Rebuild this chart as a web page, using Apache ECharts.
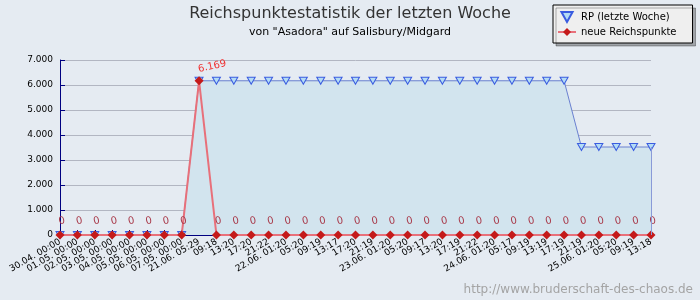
<!DOCTYPE html>
<html>
<head>
<meta charset="utf-8">
<script src="https://cdn.jsdelivr.net/npm/echarts@6/dist/echarts.min.js"></script>
<style>
  html, body { margin: 0; padding: 0; background: #e5ebf2; }
  #chart-container { width: 700px; height: 300px; }
</style>
</head>
<body>
<div id="chart-container"></div>
<script>
var categories = [
    '30.04. 00:00', '01.05. 00:00', '02.05. 00:00', '03.05. 00:00', '04.05. 00:00',
    '05.05. 00:00', '06.05. 00:00', '07.05. 00:00',
    '21.06. 05:29', '09:18', '13:20', '17:20', '21:22',
    '22.06. 01:20', '05:20', '09:19', '13:17', '17:20', '21:19',
    '23.06. 01:20', '05:20', '09:17', '13:20', '17:19', '21:22',
    '24.06. 01:20', '05:17', '09:19', '13:19', '17:19', '21:19',
    '25.06. 01:20', '05:20', '09:19', '13:18'
];
var rpWeek = [
    0, 0, 0, 0, 0, 0, 0, 0,
    6169, 6169, 6169, 6169, 6169,
    6169, 6169, 6169, 6169, 6169, 6169,
    6169, 6169, 6169, 6169, 6169, 6169,
    6169, 6169, 6169, 6169, 6169, 3520,
    3520, 3520, 3520, 3520
];
var newRp = [
    0, 0, 0, 0, 0, 0, 0, 0,
    6169, 0, 0, 0, 0,
    0, 0, 0, 0, 0, 0,
    0, 0, 0, 0, 0, 0,
    0, 0, 0, 0, 0, 0,
    0, 0, 0, 0
];
var yTicks = [0, 1000, 2000, 3000, 4000, 5000, 6000, 7000];

function deNumber(v) {
    return String(v).replace(/\B(?=(\d{3})+(?!\d))/g, '.');
}

var myChart = echarts.init(document.getElementById('chart-container'));

var lastIdx = rpWeek.length - 1;

option = {
    backgroundColor: '#e5ebf2',
    animation: false,
    textStyle: { fontFamily: 'DejaVu Sans' },
    title: {
        text: 'Reichspunktestatistik der letzten Woche',
        subtext: 'von "Asadora" auf Salisbury/Midgard',
        left: 'center',
        top: 1,
        itemGap: 5,
        textStyle: { fontSize: 16, fontWeight: 'normal', color: '#333', fontFamily: 'DejaVu Sans' },
        subtextStyle: { fontSize: 11, color: '#000', fontFamily: 'DejaVu Sans' }
    },
    legend: {
        orient: 'vertical',
        left: 553,
        top: 5,
        padding: [6, 16, 6, 4],
        itemGap: 4,
        itemWidth: 18,
        itemHeight: 10,
        backgroundColor: '#efefef',
        borderColor: '#000',
        borderWidth: 1,
        shadowColor: 'rgba(0,0,0,0.3)',
        shadowOffsetX: 3,
        shadowOffsetY: 3,
        textStyle: { fontSize: 10, color: '#000', fontFamily: 'DejaVu Sans' },
        data: [
            { name: 'RP (letzte Woche)', icon: 'path://M0,0 L10,0 L5,9 Z' },
            { name: 'neue Reichspunkte' }
        ]
    },
    grid: {
        left: 60,
        right: 49,
        top: 60,
        bottom: 65
    },
    xAxis: {
        type: 'category',
        data: categories,
        boundaryGap: false,
        axisLine: { lineStyle: { color: '#000080', width: 1 } },
        axisTick: { inside: true, length: 5, lineStyle: { color: '#000080' } },
        axisLabel: { interval: 0, rotate: 30, fontSize: 9, color: '#000', margin: 6 },
        splitLine: { show: false }
    },
    yAxis: {
        type: 'value',
        min: yTicks[0],
        max: yTicks[yTicks.length - 1],
        interval: 1000,
        axisLine: { show: true, lineStyle: { color: '#000080', width: 1 } },
        axisTick: { show: true, inside: true, length: 5, lineStyle: { color: '#000080' } },
        axisLabel: { fontSize: 9, color: '#000', margin: 7, formatter: deNumber },
        splitLine: { lineStyle: { color: '#b2b6c2', width: 1 } }
    },
    series: [
        {
            name: 'RP (letzte Woche)',
            type: 'line',
            data: rpWeek,
            symbol: 'triangle',
            symbolRotate: 180,
            symbolSize: [8, 7],
            lineStyle: { color: '#6a80d0', width: 1 },
            itemStyle: { color: '#b4dcf4', borderColor: '#3a5ce0', borderWidth: 1 },
            areaStyle: { color: '#d2e4ee', opacity: 1 },
            markLine: {
                silent: true,
                symbol: 'none',
                label: { show: false },
                lineStyle: { color: '#8a9ad8', type: 'solid', width: 1 },
                data: [[
                    { coord: [lastIdx, 0] },
                    { coord: [lastIdx, rpWeek[lastIdx]] }
                ]]
            },
            z: 2
        },
        {
            name: 'neue Reichspunkte',
            type: 'line',
            data: newRp.map(function (v) {
                if (v > 0) {
                    return { value: v, label: { color: '#f03030', offset: [14, 2], fontSize: 10 } };
                }
                return v;
            }),
            symbol: 'diamond',
            symbolSize: 9,
            lineStyle: { color: '#e8707a', width: 2 },
            itemStyle: { color: '#c41a1a' },
            label: {
                show: true,
                position: 'top',
                rotate: 12,
                distance: 4,
                offset: [3, 0],
                fontSize: 10,
                color: '#a83848',
                formatter: function (p) { return deNumber(p.value); }
            },
            z: 3
        }
    ],
    graphic: [
        {
            type: 'text',
            right: 7,
            bottom: 4,
            style: {
                text: 'http://www.bruderschaft-des-chaos.de',
                fill: '#a4a4a4',
                fontSize: 12,
                fontFamily: 'DejaVu Sans'
            }
        }
    ]
};

myChart.setOption(option);
</script>
</body>
</html>
